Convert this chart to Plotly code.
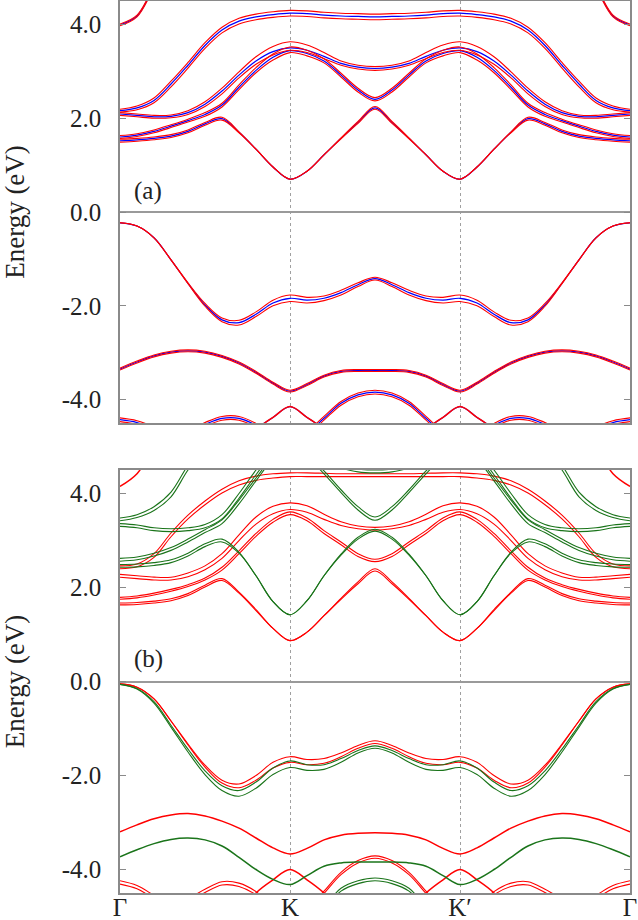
import plotly.graph_objects as go
from plotly.subplots import make_subplots

# k-path coordinate: Gamma=0, K=1, K'=2, Gamma=3
K = [0.0, 0.1, 0.2, 0.3, 0.4, 0.5, 0.6, 0.7, 0.8, 0.9, 1.0, 1.1, 1.2, 1.3, 1.4, 1.5,
     1.6, 1.7, 1.8, 1.9, 2.0, 2.1, 2.2, 2.3, 2.4, 2.5, 2.6, 2.7, 2.8, 2.9, 3.0]
K_TICKS = [0, 1, 2, 3]
K_LABELS = ["Γ", "K", "K′", "Γ"]
E_TICKS = [-4, -2, 0, 2, 4]
E_LABELS = ["-4.0", "-2.0", "0.0", "2.0", "4.0"]

# ---------------- panel (a): blue bands and red (split) bands ----------------
A_C1_BLUE = [1.52,1.54,1.57,1.62,1.72,1.88,1.99,1.70,1.34,0.96,0.70,0.87,1.22,1.57,1.91,2.22,1.91,1.57,1.22,0.87,0.70,0.96,1.34,1.70,1.99,1.88,1.72,1.62,1.57,1.54,1.52]
A_C1_RED_HI = [1.55,1.57,1.60,1.65,1.75,1.91,2.02,1.71,1.34,0.96,0.70,0.87,1.22,1.58,1.93,2.25,1.93,1.58,1.22,0.87,0.70,0.96,1.34,1.71,2.02,1.91,1.75,1.65,1.60,1.57,1.55]
A_C1_RED_LO = [1.49,1.51,1.54,1.59,1.69,1.85,1.96,1.69,1.34,0.96,0.70,0.87,1.22,1.56,1.89,2.19,1.89,1.56,1.22,0.87,0.70,0.96,1.34,1.69,1.96,1.85,1.69,1.59,1.54,1.51,1.49]
A_C2_BLUE = [1.60,1.64,1.72,1.83,1.95,2.08,2.28,2.66,3.02,3.30,3.44,3.38,3.22,2.92,2.60,2.40,2.60,2.92,3.22,3.38,3.44,3.30,3.02,2.66,2.28,2.08,1.95,1.83,1.72,1.64,1.60]
A_C2_RED_HI = [1.63,1.67,1.75,1.86,1.98,2.12,2.32,2.71,3.08,3.37,3.52,3.45,3.27,2.96,2.64,2.44,2.64,2.96,3.27,3.45,3.52,3.37,3.08,2.71,2.32,2.12,1.98,1.86,1.75,1.67,1.63]
A_C2_RED_LO = [1.57,1.61,1.69,1.80,1.92,2.04,2.24,2.61,2.97,3.24,3.40,3.33,3.18,2.88,2.56,2.37,2.56,2.88,3.18,3.33,3.40,3.24,2.97,2.61,2.24,2.04,1.92,1.80,1.69,1.61,1.57]
A_C3_BLUE = [2.09,2.06,2.03,2.04,2.12,2.30,2.58,2.92,3.22,3.42,3.50,3.45,3.32,3.17,3.09,3.06,3.09,3.17,3.32,3.45,3.50,3.42,3.22,2.92,2.58,2.30,2.12,2.04,2.03,2.06,2.09]
A_C3_RED_HI = [2.12,2.09,2.06,2.07,2.16,2.35,2.64,2.99,3.31,3.53,3.63,3.56,3.40,3.22,3.13,3.10,3.13,3.22,3.40,3.56,3.63,3.53,3.31,2.99,2.64,2.35,2.16,2.07,2.06,2.09,2.12]
A_C3_RED_LO = [2.06,2.03,2.00,2.01,2.08,2.25,2.52,2.86,3.15,3.35,3.45,3.40,3.27,3.13,3.05,3.02,3.05,3.13,3.27,3.40,3.45,3.35,3.15,2.86,2.52,2.25,2.08,2.01,2.00,2.03,2.06]
A_C4_BLUE = [2.16,2.22,2.38,2.73,3.13,3.55,3.88,4.07,4.16,4.21,4.24,4.23,4.20,4.18,4.17,4.16,4.17,4.18,4.20,4.23,4.24,4.21,4.16,4.07,3.88,3.55,3.13,2.73,2.38,2.22,2.16]
A_C4_RED_HI = [2.19,2.26,2.43,2.79,3.19,3.61,3.94,4.13,4.22,4.27,4.30,4.29,4.26,4.24,4.23,4.22,4.23,4.24,4.26,4.29,4.30,4.27,4.22,4.13,3.94,3.61,3.19,2.79,2.43,2.26,2.19]
A_C4_RED_LO = [2.13,2.18,2.33,2.67,3.07,3.49,3.82,4.01,4.10,4.15,4.18,4.17,4.14,4.12,4.11,4.10,4.11,4.12,4.14,4.17,4.18,4.15,4.10,4.01,3.82,3.49,3.07,2.67,2.33,2.18,2.13]
A_C5_BLUE = [3.99,4.18,4.80,5.40,5.80,6.00,6.00,6.00,6.00,6.00,6.00,6.00,6.00,6.00,6.00,6.00,6.00,6.00,6.00,6.00,6.00,6.00,6.00,6.00,6.00,6.00,5.80,5.40,4.80,4.18,3.99]
A_C5_RED_HI = [4.01,4.20,4.82,5.42,5.82,6.02,6.02,6.02,6.02,6.02,6.02,6.02,6.02,6.02,6.02,6.02,6.02,6.02,6.02,6.02,6.02,6.02,6.02,6.02,6.02,6.02,5.82,5.42,4.82,4.20,4.01]
A_C5_RED_LO = [3.97,4.16,4.78,5.38,5.78,5.98,5.98,5.98,5.98,5.98,5.98,5.98,5.98,5.98,5.98,5.98,5.98,5.98,5.98,5.98,5.98,5.98,5.98,5.98,5.98,5.98,5.78,5.38,4.78,4.16,3.97]
A_V1_BLUE = [-0.23,-0.30,-0.55,-1.02,-1.52,-1.98,-2.30,-2.36,-2.18,-1.94,-1.84,-1.88,-1.84,-1.72,-1.55,-1.42,-1.55,-1.72,-1.84,-1.88,-1.84,-1.94,-2.18,-2.36,-2.30,-1.98,-1.52,-1.02,-0.55,-0.30,-0.23]
A_V1_RED_HI = [-0.23,-0.30,-0.55,-1.02,-1.51,-1.95,-2.26,-2.31,-2.13,-1.88,-1.77,-1.82,-1.79,-1.67,-1.51,-1.39,-1.51,-1.67,-1.79,-1.82,-1.77,-1.88,-2.13,-2.31,-2.26,-1.95,-1.51,-1.02,-0.55,-0.30,-0.23]
A_V1_RED_LO = [-0.23,-0.30,-0.55,-1.02,-1.53,-2.01,-2.34,-2.41,-2.23,-2.00,-1.91,-1.94,-1.89,-1.77,-1.59,-1.45,-1.59,-1.77,-1.89,-1.94,-1.91,-2.00,-2.23,-2.41,-2.34,-2.01,-1.53,-1.02,-0.55,-0.30,-0.23]
A_V2_BLUE = [-3.35,-3.20,-3.07,-2.99,-2.96,-2.99,-3.08,-3.22,-3.42,-3.65,-3.82,-3.68,-3.50,-3.40,-3.38,-3.38,-3.38,-3.40,-3.50,-3.68,-3.82,-3.65,-3.42,-3.22,-3.08,-2.99,-2.96,-2.99,-3.07,-3.20,-3.35]
A_V2_RED_HI = [-3.33,-3.18,-3.05,-2.97,-2.94,-2.97,-3.06,-3.20,-3.40,-3.63,-3.80,-3.66,-3.48,-3.38,-3.36,-3.36,-3.36,-3.38,-3.48,-3.66,-3.80,-3.63,-3.40,-3.20,-3.06,-2.97,-2.94,-2.97,-3.05,-3.18,-3.33]
A_V2_RED_LO = [-3.37,-3.22,-3.09,-3.01,-2.98,-3.01,-3.10,-3.24,-3.44,-3.67,-3.84,-3.70,-3.52,-3.42,-3.40,-3.40,-3.40,-3.42,-3.52,-3.70,-3.84,-3.67,-3.44,-3.24,-3.10,-3.01,-2.98,-3.01,-3.09,-3.22,-3.37]
A_V3 = [-6.20,-6.00,-5.80,-5.60,-5.40,-5.20,-5.05,-4.85,-4.62,-4.38,-4.15,-4.38,-4.62,-4.85,-5.00,-5.05,-5.00,-4.85,-4.62,-4.38,-4.15,-4.38,-4.62,-4.85,-5.05,-5.20,-5.40,-5.60,-5.80,-6.00,-6.20]
A_V4_BLUE = [-6.00,-6.00,-6.00,-6.00,-6.00,-6.00,-6.00,-5.80,-5.50,-5.20,-4.95,-4.72,-4.40,-4.08,-3.90,-3.84,-3.90,-4.08,-4.40,-4.72,-4.95,-5.20,-5.50,-5.80,-6.00,-6.00,-6.00,-6.00,-6.00,-6.00,-6.00]
A_V4_RED_HI = [-5.96,-5.96,-5.96,-5.96,-5.96,-5.96,-5.96,-5.76,-5.46,-5.16,-4.91,-4.68,-4.36,-4.04,-3.86,-3.80,-3.86,-4.04,-4.36,-4.68,-4.91,-5.16,-5.46,-5.76,-5.96,-5.96,-5.96,-5.96,-5.96,-5.96,-5.96]
A_V4_RED_LO = [-6.04,-6.04,-6.04,-6.04,-6.04,-6.04,-6.04,-5.84,-5.54,-5.24,-4.99,-4.76,-4.44,-4.12,-3.94,-3.88,-3.94,-4.12,-4.44,-4.76,-4.99,-5.24,-5.54,-5.84,-6.04,-6.04,-6.04,-6.04,-6.04,-6.04,-6.04]
A_V5_BLUE = [-4.43,-4.49,-4.62,-4.75,-4.70,-4.53,-4.40,-4.40,-4.55,-4.80,-5.00,-5.20,-5.40,-5.50,-5.60,-5.60,-5.60,-5.50,-5.40,-5.20,-5.00,-4.80,-4.55,-4.40,-4.40,-4.53,-4.70,-4.75,-4.62,-4.49,-4.43]
A_V5_RED_HI = [-4.39,-4.45,-4.58,-4.71,-4.66,-4.49,-4.36,-4.36,-4.51,-4.76,-4.96,-5.16,-5.36,-5.46,-5.56,-5.56,-5.56,-5.46,-5.36,-5.16,-4.96,-4.76,-4.51,-4.36,-4.36,-4.49,-4.66,-4.71,-4.58,-4.45,-4.39]
A_V5_RED_LO = [-4.47,-4.53,-4.66,-4.79,-4.74,-4.57,-4.44,-4.44,-4.59,-4.84,-5.04,-5.24,-5.44,-5.54,-5.64,-5.64,-5.64,-5.54,-5.44,-5.24,-5.04,-4.84,-4.59,-4.44,-4.44,-4.57,-4.74,-4.79,-4.66,-4.53,-4.47]

# ---------------- panel (b): red and green bands ----------------
B_RC1_HI = [1.67,1.68,1.71,1.76,1.87,2.05,2.19,1.90,1.53,1.13,0.87,1.05,1.40,1.77,2.12,2.40,2.12,1.77,1.40,1.05,0.87,1.13,1.53,1.90,2.19,2.05,1.87,1.76,1.71,1.68,1.67]
B_RC1_LO = [1.63,1.64,1.67,1.72,1.83,2.01,2.15,1.88,1.51,1.13,0.87,1.05,1.40,1.75,2.08,2.35,2.08,1.75,1.40,1.05,0.87,1.13,1.51,1.88,2.15,2.01,1.83,1.72,1.67,1.64,1.63]
B_RC2_HI = [1.79,1.82,1.88,1.96,2.06,2.20,2.43,2.78,3.15,3.45,3.61,3.48,3.21,2.97,2.72,2.60,2.72,2.97,3.21,3.48,3.61,3.45,3.15,2.78,2.43,2.20,2.06,1.96,1.88,1.82,1.79]
B_RC2_LO = [1.75,1.78,1.84,1.92,2.02,2.16,2.37,2.72,3.09,3.39,3.55,3.42,3.15,2.91,2.66,2.55,2.66,2.91,3.15,3.42,3.55,3.39,3.09,2.72,2.37,2.16,2.02,1.92,1.84,1.78,1.75]
B_RC3_HI = [2.28,2.25,2.22,2.22,2.31,2.46,2.72,3.12,3.50,3.73,3.80,3.74,3.56,3.40,3.31,3.28,3.31,3.40,3.56,3.74,3.80,3.73,3.50,3.12,2.72,2.46,2.31,2.22,2.22,2.25,2.28]
B_RC3_LO = [2.22,2.19,2.16,2.16,2.23,2.38,2.62,3.00,3.35,3.57,3.66,3.60,3.45,3.32,3.25,3.22,3.25,3.32,3.45,3.60,3.66,3.57,3.35,3.00,2.62,2.38,2.23,2.16,2.16,2.19,2.22]
B_RC4_HI = [2.46,2.50,2.72,3.16,3.54,3.84,4.09,4.27,4.37,4.42,4.44,4.44,4.43,4.42,4.42,4.42,4.42,4.42,4.43,4.44,4.44,4.42,4.37,4.27,4.09,3.84,3.54,3.16,2.72,2.50,2.46]
B_RC4_LO = [2.40,2.44,2.64,3.08,3.46,3.76,4.01,4.18,4.28,4.33,4.36,4.36,4.36,4.36,4.36,4.36,4.36,4.36,4.36,4.36,4.36,4.33,4.28,4.18,4.01,3.76,3.46,3.08,2.64,2.44,2.40]
B_RC5 = [4.15,4.42,5.00,5.50,6.00,6.00,6.00,6.00,6.00,6.00,6.00,6.00,6.00,6.00,6.00,6.00,6.00,6.00,6.00,6.00,6.00,6.00,6.00,6.00,6.00,6.00,6.00,5.50,5.00,4.42,4.15]
B_RG_HI = [-4.24,-4.34,-4.55,-4.75,-4.62,-4.42,-4.26,-4.29,-4.47,-4.80,-5.00,-5.20,-5.40,-5.50,-5.60,-5.60,-5.60,-5.50,-5.40,-5.20,-5.00,-4.80,-4.47,-4.29,-4.26,-4.42,-4.62,-4.75,-4.55,-4.34,-4.24]
B_RG_LO = [-4.31,-4.41,-4.62,-4.82,-4.69,-4.49,-4.33,-4.36,-4.54,-4.87,-5.07,-5.27,-5.47,-5.57,-5.67,-5.67,-5.67,-5.57,-5.47,-5.27,-5.07,-4.87,-4.54,-4.36,-4.33,-4.49,-4.69,-4.82,-4.62,-4.41,-4.31]
B_RLAM = [-6.00,-6.00,-6.00,-6.00,-6.00,-5.80,-5.40,-5.00,-4.50,-4.22,-4.00,-4.22,-4.50,-4.90,-5.20,-5.30,-5.20,-4.90,-4.50,-4.22,-4.00,-4.22,-4.50,-5.00,-5.40,-5.80,-6.00,-6.00,-6.00,-6.00,-6.00]
B_RARCH_HI = [-6.00,-6.00,-6.00,-6.00,-6.00,-6.00,-6.00,-6.00,-6.00,-5.60,-5.20,-4.85,-4.46,-4.06,-3.81,-3.71,-3.81,-4.06,-4.46,-4.85,-5.20,-5.60,-6.00,-6.00,-6.00,-6.00,-6.00,-6.00,-6.00,-6.00,-6.00]
B_RARCH_LO = [-6.05,-6.05,-6.05,-6.05,-6.05,-6.05,-6.05,-6.05,-6.05,-5.65,-5.25,-4.90,-4.51,-4.11,-3.86,-3.76,-3.86,-4.11,-4.51,-4.90,-5.25,-5.65,-6.05,-6.05,-6.05,-6.05,-6.05,-6.05,-6.05,-6.05,-6.05]
B_RV1_HI = [-0.05,-0.12,-0.37,-0.84,-1.33,-1.78,-2.10,-2.18,-2.00,-1.72,-1.60,-1.66,-1.64,-1.52,-1.36,-1.26,-1.36,-1.52,-1.64,-1.66,-1.60,-1.72,-2.00,-2.18,-2.10,-1.78,-1.33,-0.84,-0.37,-0.12,-0.05]
B_RV1_LO = [-0.05,-0.12,-0.37,-0.84,-1.35,-1.82,-2.16,-2.26,-2.10,-1.84,-1.72,-1.77,-1.74,-1.60,-1.42,-1.32,-1.42,-1.60,-1.74,-1.77,-1.72,-1.84,-2.10,-2.26,-2.16,-1.82,-1.35,-0.84,-0.37,-0.12,-0.05]
B_RV2 = [-3.20,-3.05,-2.92,-2.84,-2.81,-2.86,-2.97,-3.12,-3.33,-3.54,-3.67,-3.55,-3.37,-3.27,-3.23,-3.22,-3.23,-3.27,-3.37,-3.55,-3.67,-3.54,-3.33,-3.12,-2.97,-2.86,-2.81,-2.84,-2.92,-3.05,-3.20]
B_GC1_HI = [2.49,2.50,2.53,2.59,2.73,2.93,3.03,2.75,2.25,1.70,1.42,1.72,2.25,2.71,3.07,3.24,3.07,2.71,2.25,1.72,1.42,1.70,2.25,2.75,3.03,2.93,2.73,2.59,2.53,2.50,2.49]
B_GC1_LO = [2.43,2.44,2.47,2.53,2.67,2.87,2.97,2.73,2.25,1.70,1.42,1.72,2.25,2.69,3.03,3.20,3.03,2.69,2.25,1.72,1.42,1.70,2.25,2.73,2.97,2.87,2.67,2.53,2.47,2.44,2.43]
B_GC2_HI = [2.62,2.65,2.73,2.85,3.03,3.23,3.44,3.86,4.33,4.78,5.00,4.83,4.48,4.08,3.72,3.50,3.72,4.08,4.48,4.83,5.00,4.78,4.33,3.86,3.44,3.23,3.03,2.85,2.73,2.65,2.62]
B_GC2_LO = [2.56,2.59,2.67,2.79,2.97,3.17,3.36,3.78,4.27,4.72,4.94,4.77,4.42,4.02,3.65,3.43,3.65,4.02,4.42,4.77,4.94,4.72,4.27,3.78,3.36,3.17,2.97,2.79,2.67,2.59,2.56]
B_GC3_HI = [3.36,3.33,3.27,3.25,3.27,3.34,3.55,4.00,4.50,4.95,5.15,5.05,4.84,4.61,4.52,4.50,4.52,4.61,4.84,5.05,5.15,4.95,4.50,4.00,3.55,3.34,3.27,3.25,3.27,3.33,3.36]
B_GC3_LO = [3.30,3.27,3.21,3.19,3.21,3.27,3.46,3.90,4.40,4.85,5.05,4.95,4.76,4.55,4.46,4.44,4.46,4.55,4.76,4.95,5.05,4.85,4.40,3.90,3.46,3.27,3.21,3.19,3.21,3.27,3.30]
B_GC4_HI = [3.48,3.55,3.72,4.03,4.60,5.05,5.30,5.40,5.50,5.50,5.50,5.50,5.50,5.50,5.50,5.50,5.50,5.50,5.50,5.50,5.50,5.50,5.50,5.40,5.30,5.05,4.60,4.03,3.72,3.55,3.48]
B_GC4_LO = [3.42,3.49,3.64,3.93,4.50,4.95,5.25,5.35,5.45,5.45,5.45,5.45,5.45,5.45,5.45,5.45,5.45,5.45,5.45,5.45,5.45,5.45,5.45,5.35,5.25,4.95,4.50,3.93,3.64,3.49,3.42]
B_GARCH_HI = [-6.00,-6.00,-6.00,-6.00,-6.00,-6.00,-6.00,-6.00,-6.00,-6.00,-6.00,-5.20,-4.80,-4.40,-4.24,-4.18,-4.24,-4.40,-4.80,-5.20,-6.00,-6.00,-6.00,-6.00,-6.00,-6.00,-6.00,-6.00,-6.00,-6.00,-6.00]
B_GARCH_LO = [-6.05,-6.05,-6.05,-6.05,-6.05,-6.05,-6.05,-6.05,-6.05,-6.05,-6.05,-5.25,-4.85,-4.46,-4.30,-4.24,-4.30,-4.46,-4.85,-5.25,-6.05,-6.05,-6.05,-6.05,-6.05,-6.05,-6.05,-6.05,-6.05,-6.05,-6.05]
B_GV1_HI = [-0.06,-0.15,-0.43,-0.93,-1.44,-1.90,-2.22,-2.32,-2.14,-1.84,-1.69,-1.77,-1.77,-1.64,-1.47,-1.37,-1.47,-1.64,-1.77,-1.77,-1.69,-1.84,-2.14,-2.32,-2.22,-1.90,-1.44,-0.93,-0.43,-0.15,-0.06]
B_GV1_LO = [-0.06,-0.16,-0.46,-0.97,-1.50,-1.98,-2.32,-2.44,-2.27,-1.98,-1.83,-1.89,-1.87,-1.72,-1.52,-1.42,-1.52,-1.72,-1.87,-1.89,-1.83,-1.98,-2.27,-2.44,-2.32,-1.98,-1.50,-0.97,-0.46,-0.16,-0.06]
B_GV2 = [-3.73,-3.58,-3.45,-3.36,-3.33,-3.37,-3.50,-3.74,-4.00,-4.21,-4.32,-4.13,-3.93,-3.86,-3.84,-3.84,-3.84,-3.86,-3.93,-4.13,-4.32,-4.21,-4.00,-3.74,-3.50,-3.37,-3.33,-3.36,-3.45,-3.58,-3.73]

RED = "#ff0000"
BLUE = "#0000ff"
GREEN = "#1a741a"
FONT = "Liberation Serif"
TXT = "#222222"

RW = 1.1   # red / green line width
BW = 1.2   # blue line width

PANEL_A = [
    (A_C1_BLUE, BLUE, BW), (A_C2_BLUE, BLUE, BW), (A_C3_BLUE, BLUE, BW),
    (A_C4_BLUE, BLUE, BW), (A_C5_BLUE, BLUE, BW), (A_V1_BLUE, BLUE, BW),
    (A_V2_BLUE, BLUE, BW), (A_V3, BLUE, BW), (A_V4_BLUE, BLUE, BW), (A_V5_BLUE, BLUE, BW),
    (A_C1_RED_HI, RED, RW), (A_C1_RED_LO, RED, RW),
    (A_C2_RED_HI, RED, RW), (A_C2_RED_LO, RED, RW),
    (A_C3_RED_HI, RED, RW), (A_C3_RED_LO, RED, RW),
    (A_C4_RED_HI, RED, RW), (A_C4_RED_LO, RED, RW),
    (A_C5_RED_HI, RED, RW), (A_C5_RED_LO, RED, RW),
    (A_V1_RED_HI, RED, RW), (A_V1_RED_LO, RED, RW),
    (A_V2_RED_HI, RED, RW), (A_V2_RED_LO, RED, RW),
    (A_V3, RED, 1.5),
    (A_V4_RED_HI, RED, RW), (A_V4_RED_LO, RED, RW),
    (A_V5_RED_HI, RED, RW), (A_V5_RED_LO, RED, RW),
]
PANEL_B = [
    (B_RC1_HI, RED, RW), (B_RC1_LO, RED, RW), (B_RC2_HI, RED, RW), (B_RC2_LO, RED, RW),
    (B_RC3_HI, RED, RW), (B_RC3_LO, RED, RW), (B_RC4_HI, RED, RW), (B_RC4_LO, RED, RW),
    (B_RC5, RED, 1.5), (B_RG_HI, RED, RW), (B_RG_LO, RED, RW), (B_RLAM, RED, 1.5),
    (B_RARCH_HI, RED, RW), (B_RARCH_LO, RED, RW), (B_RV1_HI, RED, RW), (B_RV1_LO, RED, RW),
    (B_RV2, RED, 1.5),
    (B_GC1_HI, GREEN, RW), (B_GC1_LO, GREEN, RW), (B_GC2_HI, GREEN, RW), (B_GC2_LO, GREEN, RW),
    (B_GC3_HI, GREEN, RW), (B_GC3_LO, GREEN, RW), (B_GC4_HI, GREEN, RW), (B_GC4_LO, GREEN, RW),
    (B_GARCH_HI, GREEN, RW), (B_GARCH_LO, GREEN, RW), (B_GV1_HI, GREEN, RW), (B_GV1_LO, GREEN, RW),
    (B_GV2, GREEN, 1.5),
]

for vals, _, _ in PANEL_A + PANEL_B:
    if len(vals) != len(K):
        raise ValueError("length mismatch %d" % len(vals))

fig = make_subplots(rows=2, cols=1)
for row, panel in ((1, PANEL_A), (2, PANEL_B)):
    for vals, color, width in panel:
        fig.add_trace(go.Scatter(x=K, y=vals, mode="lines",
                                 line=dict(color=color, width=width, shape="spline", smoothing=1.0),
                                 hoverinfo="skip", showlegend=False), row=row, col=1)

axis_line = "#8a8a8a"
xcommon = dict(range=[0, 3], tickvals=K_TICKS, showgrid=True, gridcolor="#a0a0a0",
               griddash="dot", gridwidth=1, zeroline=False, showline=True, mirror=True,
               linecolor=axis_line, linewidth=1.5, ticks="", automargin=False)
ycommon = dict(range=[-4.5, 4.5], tickvals=E_TICKS, ticktext=E_LABELS, ticks="inside",
               ticklen=6, tickcolor=axis_line, tickwidth=1.2, showline=True, mirror="ticks",
               linecolor=axis_line, linewidth=1.5, showgrid=False, zeroline=True,
               zerolinecolor="#9a9a9a", zerolinewidth=1.5, ticklabelstandoff=12,
               automargin=False,
               tickfont=dict(family=FONT, size=25, color=TXT),
               title=dict(text="Energy (eV)", font=dict(family=FONT, size=27, color=TXT), standoff=34))

fig.update_layout(
    width=638, height=920, margin=dict(l=120, r=8, t=1, b=27),
    paper_bgcolor="white", plot_bgcolor="white",
    xaxis=dict(xcommon, showticklabels=False),
    xaxis2=dict(xcommon, ticktext=K_LABELS, showticklabels=True, ticklabelstandoff=-9,
                tickfont=dict(family=FONT, size=25, color=TXT)),
    yaxis=dict(ycommon, domain=[0.5269, 1.0]),
    yaxis2=dict(ycommon, domain=[0.0, 0.4742]),
    annotations=[
        dict(text="(a)", x=0.07, y=0.45, xref="x", yref="y", xanchor="left", yanchor="middle",
             showarrow=False, font=dict(family=FONT, size=25, color=TXT)),
        dict(text="(b)", x=0.07, y=0.47, xref="x2", yref="y2", xanchor="left", yanchor="middle",
             showarrow=False, font=dict(family=FONT, size=25, color=TXT)),
    ],
)

fig.write_html("out.html")
